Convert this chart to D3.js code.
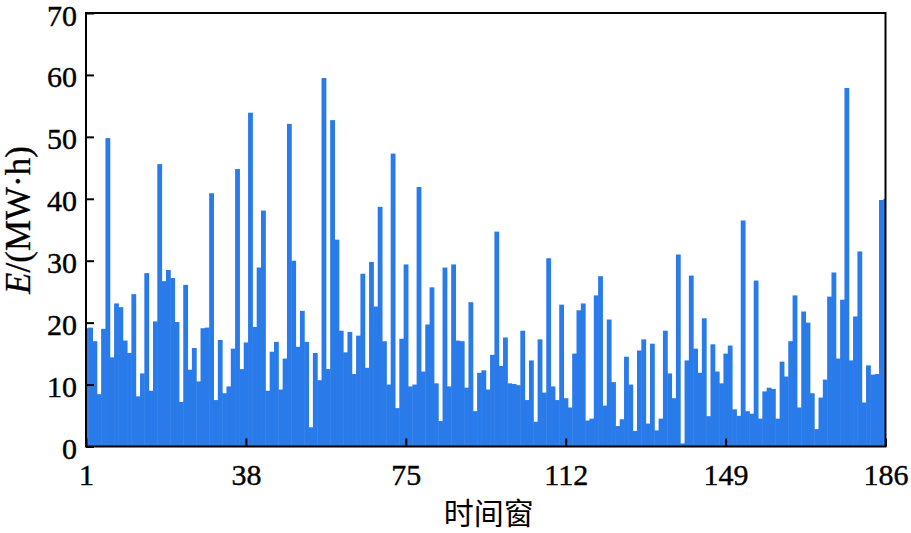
<!DOCTYPE html>
<html>
<head>
<meta charset="utf-8">
<script src="https://cdn.jsdelivr.net/npm/d3@7"></script>
<style>
  html, body { margin: 0; padding: 0; background: #ffffff; }
  svg { display: block; }
</style>
</head>
<body>
<svg id="chart" width="911" height="533"></svg>
<script>
// ---- data ----
const timeWindows = d3.range(1, 187);
const energyValues = [
  19.1, 19.2, 17.0, 8.45, 19.0, 49.8, 14.4, 23.1, 22.5, 17.1,
  15.1, 24.6, 8.1, 11.8, 28.0, 9.0, 20.2, 45.6, 26.7, 28.5,
  27.2, 20.1, 7.2, 26.1, 12.4, 15.9, 10.5, 19.1, 19.2, 40.9,
  7.5, 17.2, 8.6, 9.7, 15.8, 44.8, 12.5, 16.8, 53.9, 19.3,
  28.9, 38.1, 9.0, 15.3, 16.9, 9.2, 14.2, 52.1, 30.0, 16.1,
  21.9, 16.9, 3.1, 15.1, 10.7, 59.5, 12.5, 52.7, 33.4, 18.7,
  15.2, 18.5, 11.7, 17.9, 27.9, 12.7, 29.8, 22.6, 38.7, 17.0,
  10.0, 47.3, 6.2, 17.4, 29.4, 9.7, 10.0, 41.9, 12.1, 19.7,
  25.7, 10.2, 4.1, 28.9, 9.7, 29.4, 17.1, 17.0, 9.5, 23.3,
  5.7, 11.9, 12.3, 9.2, 14.8, 34.7, 13.0, 17.6, 10.2, 10.1,
  9.9, 18.7, 7.5, 13.9, 4.0, 17.3, 8.7, 30.4, 9.7, 7.5,
  22.9, 7.8, 6.3, 15.0, 22.0, 23.1, 4.2, 4.5, 24.4, 27.5,
  6.6, 20.5, 10.4, 3.3, 4.4, 14.5, 10.0, 2.5, 15.5, 17.3,
  3.7, 16.6, 2.6, 4.5, 18.7, 11.8, 7.8, 31.0, 0.5, 13.9,
  27.6, 15.8, 11.9, 20.7, 4.9, 16.5, 12.1, 10.2, 15.0, 16.3,
  6.0, 4.95, 36.5, 5.7, 5.3, 26.8, 4.5, 8.9, 9.5, 9.3,
  4.5, 13.7, 11.3, 17.0, 24.4, 6.3, 21.8, 20.0, 8.6, 2.8,
  7.9, 10.8, 24.2, 28.1, 14.2, 23.7, 57.9, 13.9, 21.0, 31.5,
  7.1, 13.1, 11.6, 11.7, 39.8, 40.0
];
const xTickValues = [1, 38, 75, 112, 149, 186];
const yTickValues = [0, 10, 20, 30, 40, 50, 60, 70];

// ---- layout ----
const pLeft = 86, pRight = 885.5, pTop = 13, pBottom = 446.5;
const svg = d3.select("#chart");

const x = d3.scaleLinear().domain([1, 186]).range([pLeft, pRight]);
const y = d3.scaleLinear().domain([0, 70]).range([pBottom, pTop]);
const bw = x(2) - x(1);

svg.append("defs").append("clipPath").attr("id", "plotClip")
  .append("rect").attr("x", pLeft).attr("y", pTop)
  .attr("width", pRight - pLeft).attr("height", pBottom - pTop);

svg.append("g").attr("clip-path", "url(#plotClip)")
  .selectAll("rect")
  .data(timeWindows.map((t, i) => ({ t, v: energyValues[i] })))
  .join("rect")
  .attr("x", d => x(d.t) - bw / 2)
  .attr("width", bw + 0.5)
  .attr("y", d => y(d.v))
  .attr("height", d => pBottom - y(d.v))
  .attr("fill", "#2a7bea");

// axes
const font = "'Liberation Serif', 'Times New Roman', serif";

const gx = svg.append("g").attr("transform", `translate(0,${pBottom})`)
  .call(d3.axisBottom(x).tickValues(xTickValues).tickFormat(d3.format("d"))
    .tickSizeInner(-8).tickSizeOuter(0).tickPadding(17));
gx.select(".domain").remove();
gx.selectAll(".tick line").attr("stroke", "#000").attr("stroke-width", 2);
gx.selectAll(".tick text").attr("font-family", font).attr("font-size", 30)
  .attr("fill", "#000").attr("stroke", "#000").attr("stroke-width", 0.4)
  .attr("dy", "0.71em");

const gy = svg.append("g").attr("transform", `translate(${pLeft},0)`)
  .call(d3.axisLeft(y).tickValues(yTickValues).tickFormat(d3.format("d"))
    .tickSizeInner(-8).tickSizeOuter(0).tickPadding(9));
gy.select(".domain").remove();
gy.selectAll(".tick line").attr("stroke", "#000").attr("stroke-width", 2);
gy.selectAll(".tick text").attr("font-family", font).attr("font-size", 30)
  .attr("fill", "#000").attr("stroke", "#000").attr("stroke-width", 0.4)
  .attr("dy", "0.4em");

// frame
svg.append("rect").attr("x", pLeft).attr("y", pTop)
  .attr("width", pRight - pLeft).attr("height", pBottom - pTop)
  .attr("fill", "none").attr("stroke", "#000").attr("stroke-width", 2);

// axis titles
svg.append("text")
  .attr("x", (pLeft + pRight) / 2 + 3).attr("y", 524)
  .attr("text-anchor", "middle")
  .attr("font-family", "'Noto Sans CJK SC', sans-serif")
  .attr("font-size", 30).attr("fill", "#000")
  .text("时间窗");

const yt = svg.append("text")
  .attr("transform", `translate(30,220) rotate(-90)`)
  .attr("text-anchor", "middle")
  .attr("font-family", font)
  .attr("font-size", 35).attr("fill", "#000")
  .attr("stroke", "#000").attr("stroke-width", 0.3);
yt.append("tspan").attr("font-style", "italic").text("E");
yt.append("tspan").text("/(MW·h)");
</script>
</body>
</html>
